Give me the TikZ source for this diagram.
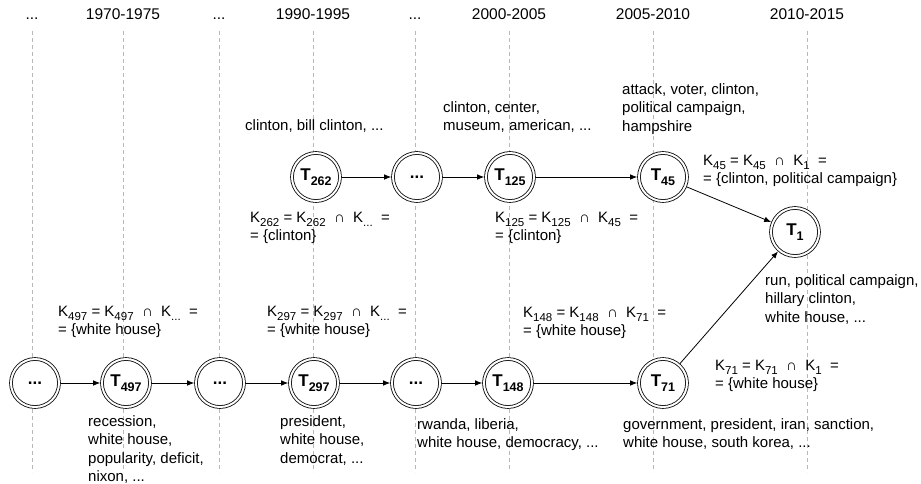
\documentclass[tikz,border=0pt]{standalone}
\usepackage{fontspec}
\setmainfont{Liberation Sans}
\usetikzlibrary{arrows.meta}
\newcommand\txtblock[1]{\begin{tabular}[t]{@{}l@{}}#1\end{tabular}}
\newcommand\ksub[1]{\raisebox{-4.5pt}{\fontsize{11.5}{12}\selectfont #1}}
\newcommand\tsub[1]{\raisebox{-5pt}{\fontsize{12.5}{13}\selectfont #1}}
\begin{document}
\begin{tikzpicture}[x=1pt,y=-1pt,
  topic/.style={circle, draw, double, double distance=2pt, line width=0.8pt, fill=white,
    minimum size=48pt, inner sep=0pt, outer sep=1.8pt, font=\fontsize{17}{18}\selectfont\bfseries},
  lbl/.style={anchor=base west, inner sep=0pt, font=\fontsize{15}{18.5}\selectfont},
  hdr/.style={anchor=base, inner sep=0pt, font=\fontsize{15.5}{18}\selectfont},
  gridline/.style={draw=black!28, dash pattern=on 4pt off 3pt, line width=0.8pt},
  link/.style={-{Latex[length=7pt,width=5.5pt]}, line width=0.8pt}]
\useasboundingbox (0,0) rectangle (921,483);
% period grid
\foreach \x/\t [count=\i] in {32/{...},123/1970-1975,219/{...},313/1990-1995,415/{...},509/2000-2005,653/2005-2010,807/2010-2015}{
  \node[hdr] (h\i) at (\x,19) {\t};
  \coordinate (gt\i) at (\x,31);
  \coordinate (gb\i) at (\x,472);
  \draw[gridline] (gt\i) -- (gb\i);
}
% top chain
\node[topic] (t262) at (316,177) {T\tsub{262}};
\node[topic] (a3) at (417,177) {...};
\node[topic] (t125) at (510,177) {T\tsub{125}};
\node[topic] (t45) at (663,177) {T\tsub{45}};
\node[topic] (t1) at (795,232) {T\tsub{1}};
% bottom chain
\node[topic] (a0) at (35,383) {...};
\node[topic] (t497) at (126,383) {T\tsub{497}};
\node[topic] (a1) at (220,383) {...};
\node[topic] (t297) at (314,383) {T\tsub{297}};
\node[topic] (a2) at (416,383) {...};
\node[topic] (t148) at (508,383) {T\tsub{148}};
\node[topic] (t71) at (663,383) {T\tsub{71}};
% connectors
\draw[link] (t262) -- (a3);
\draw[link] (a3) -- (t125);
\draw[link] (t125) -- (t45);
\draw[link] (t45) -- (t1);
\draw[link] (a0) -- (t497);
\draw[link] (t497) -- (a1);
\draw[link] (a1) -- (t297);
\draw[link] (t297) -- (a2);
\draw[link] (a2) -- (t148);
\draw[link] (t148) -- (t71);
\draw[link] (t71) -- (t1);
% keyword labels
\node[lbl] (w262) at (245,130) {\txtblock{clinton, bill clinton, ...}};
\node[lbl] (w125) at (443,112) {\txtblock{clinton, center,\\museum, american, ...}};
\node[lbl] (w45) at (622,94) {\txtblock{attack, voter, clinton,\\political campaign,\\hampshire}};
\node[lbl] (w1) at (765,285) {\txtblock{run, political campaign,\\hillary clinton,\\white house, ...}};
\node[lbl] (w497) at (88,426) {\txtblock{recession,\\white house,\\popularity, deficit,\\nixon, ...}};
\node[lbl] (w297) at (280,426) {\txtblock{president,\\white house,\\democrat, ...}};
\node[lbl] (w148) at (417,429) {\txtblock{rwanda, liberia,\\white house, democracy, ...}};
\node[lbl] (w71) at (623,429) {\txtblock{government, president, iran, sanction,\\white house, south korea, ...}};
% intersection labels
\node[lbl] (k262) at (250,222) {\txtblock{K\ksub{262} = K\ksub{262} \ ∩ \ K\ksub{...} \ =\\= \{clinton\}}};
\node[lbl] (k125) at (495,222) {\txtblock{K\ksub{125} = K\ksub{125} \ ∩ \ K\ksub{45} \ =\\= \{clinton\}}};
\node[lbl] (k45) at (703,165) {\txtblock{K\ksub{45} = K\ksub{45} \ ∩ \ K\ksub{1} \ =\\= \{clinton, political campaign\}}};
\node[lbl] (k497) at (58,316) {\txtblock{K\ksub{497} = K\ksub{497} \ ∩ \ K\ksub{...} \ =\\= \{white house\}}};
\node[lbl] (k297) at (267,316) {\txtblock{K\ksub{297} = K\ksub{297} \ ∩ \ K\ksub{...} \ =\\= \{white house\}}};
\node[lbl] (k148) at (523,317) {\txtblock{K\ksub{148} = K\ksub{148} \ ∩ \ K\ksub{71} \ =\\= \{white house\}}};
\node[lbl] (k71) at (715,370) {\txtblock{K\ksub{71} = K\ksub{71} \ ∩ \ K\ksub{1} \ =\\= \{white house\}}};
\end{tikzpicture}
\end{document}
